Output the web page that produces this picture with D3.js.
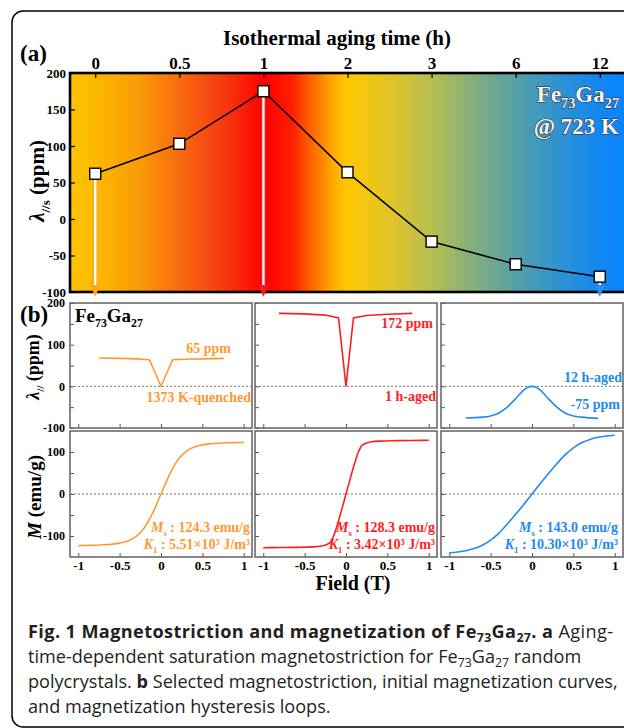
<!DOCTYPE html>
<html>
<head>
<meta charset="utf-8">
<script src="https://cdn.jsdelivr.net/npm/d3@7"></script>
<style>
html, body { margin: 0; padding: 0; background: #fff; overflow: hidden; }
svg { display: block; }
</style>
</head>
<body>
<div id="chart"></div>
<script>
// ---- data ----
// (a) saturation magnetostriction vs aging time
const agingTimes = ["0", "0.5", "1", "2", "3", "6", "12"];
const lambdaSat = [62, 103, 175, 64, -31, -62, -79];
const arrowTimes = ["0", "1", "12"];

// (b) magnetostriction curves, field in T, lambda in ppm
const fieldQ = [-0.75, -0.5, -0.3, -0.14, -0.07, 0, 0.07, 0.14, 0.3, 0.5, 0.76];
const lambdaQ = [68, 67, 66, 64, 32, 0, 32, 64, 65, 66, 67];
const field1h = [-0.81, -0.5, -0.25, -0.09, -0.045, 0, 0.045, 0.09, 0.25, 0.5, 0.8];
const lambda1h = [175, 174, 171, 164, 82, 0, 82, 164, 170, 173, 175];
const field12h = [-0.8, -0.6, -0.5, -0.4, -0.3, -0.2, -0.1, -0.05, 0, 0.05, 0.1, 0.2, 0.3, 0.4, 0.5, 0.6, 0.8];
const lambda12h = [-76, -74, -71, -64, -50, -30, -9, -2, 0, -2, -9, -30, -50, -64, -71, -74, -77];

// (b) magnetization curves, field in T, M in emu/g
const fieldMQ = [-1, -0.9, -0.8, -0.7, -0.6, -0.5, -0.4, -0.3, -0.2, -0.1, 0, 0.1, 0.2, 0.3, 0.4, 0.5, 0.6, 0.7, 0.8, 0.9, 1];
const magQ = [-123, -122.5, -122, -121, -119.5, -117, -112, -101, -80, -45, 0, 45, 80, 101, 112, 117, 119.5, 121, 122, 122.5, 123];
const fieldM1h = [-1, -0.8, -0.6, -0.4, -0.3, -0.2, -0.15, -0.1, -0.05, 0, 0.05, 0.1, 0.15, 0.2, 0.3, 0.4, 0.6, 0.8, 1];
const mag1h = [-128, -127.5, -127, -126, -124, -117, -100, -70, -36, 0, 36, 70, 100, 117, 124, 126, 127, 127.5, 128];
const fieldM12h = [-1, -0.9, -0.8, -0.7, -0.6, -0.5, -0.4, -0.3, -0.2, -0.1, 0, 0.1, 0.2, 0.3, 0.4, 0.5, 0.6, 0.7, 0.8, 0.9, 1];
const mag12h = [-140, -138, -135, -130, -122, -110, -93, -72, -49, -25, 0, 25, 49, 72, 93, 110, 122, 130, 135, 138, 140];

const sampleNames = ["1373 K-quenched", "1 h-aged", "12 h-aged"];
const lambdaLabels = ["65 ppm", "172 ppm", "-75 ppm"];
const msValues = ["124.3", "128.3", "143.0"];
const k1Values = ["5.51", "3.42", "10.30"];

// ---- styles ----
const serif = "'Liberation Serif', 'Times New Roman', serif";
const sampleColors = ["#ff9933", "#ff1e1e", "#2489ee"];
const bgStops = [
    [0, "#fdc400"], [0.047, "#fcb800"], [0.126, "#fa9a08"], [0.198, "#f86a10"],
    [0.279, "#f53a10"], [0.35, "#ff0000"], [0.4, "#ff1e00"], [0.432, "#ff6000"],
    [0.472, "#ffa800"], [0.499, "#ffc800"], [0.577, "#e2c428"], [0.65, "#b6bf4f"],
    [0.724, "#86b07c"], [0.802, "#56a0a6"], [0.883, "#2e92d2"], [0.955, "#1287f2"], [1, "#0a84ff"]
];

const W = 624, H = 728;
const svg = d3.select("#chart").append("svg")
    .attr("width", W).attr("height", H)
    .attr("font-family", serif).attr("font-weight", "bold");

// text with subscripts / italics: parts = [[text, "sub"|"it"|null], ...]
function richText(sel, parts, size) {
    let shifted = 0;
    parts.forEach(([t, kind]) => {
        const sp = sel.append("tspan").text(t);
        if (kind === "sub") {
            const d = size * 0.28;
            sp.attr("font-size", size * 0.62).attr("dy", d - shifted);
            shifted = d;
        } else {
            if (shifted) sp.attr("dy", -shifted);
            shifted = 0;
            if (kind === "it") sp.attr("font-style", "italic");
        }
    });
    return sel;
}

// outer rounded frame
svg.append("rect")
    .attr("x", 12).attr("y", 11).attr("width", 660).attr("height", 716)
    .attr("rx", 11).attr("fill", "none").attr("stroke", "#000").attr("stroke-width", 1.5);

// ================= panel (a) =================
const A = {left: 70, right: 625, top: 73, bottom: 292};
const xA = d3.scalePoint().domain(agingTimes).range([A.left, A.right]).padding(0.3);
const yA = d3.scaleLinear().domain([-100, 200]).range([A.bottom, A.top]);

const grad = svg.append("defs").append("linearGradient")
    .attr("id", "bg").attr("gradientUnits", "userSpaceOnUse")
    .attr("x1", A.left).attr("x2", A.right).attr("y1", 0).attr("y2", 0);
grad.selectAll("stop").data(bgStops).join("stop")
    .attr("offset", d => d[0]).attr("stop-color", d => d[1]);

const gA = svg.append("g");
gA.append("rect")
    .attr("x", A.left).attr("y", A.top)
    .attr("width", A.right - A.left).attr("height", A.bottom - A.top)
    .attr("fill", "url(#bg)");

const pts = agingTimes.map((t, i) => ({t: t, v: lambdaSat[i]}));

// arrows down to panel (b)
const arrowColors = {"0": "#ffa51a", "1": "#ff1a1a", "12": "#2a8ff0"};
const arrowHead = (x, tip) => `M${x - 5},${tip - 12}L${x + 5},${tip - 12}L${x},${tip}Z`;
arrowTimes.forEach(t => {
    const x = xA(t);
    const y0 = yA(lambdaSat[agingTimes.indexOf(t)]) + 6;
    const tip = A.bottom + 5;
    gA.append("line").attr("x1", x).attr("x2", x).attr("y1", y0).attr("y2", tip - 11)
        .attr("stroke", arrowColors[t]).attr("stroke-width", 4.6);
    gA.append("line").attr("x1", x).attr("x2", x).attr("y1", y0).attr("y2", tip - 11)
        .attr("stroke", "#fff").attr("stroke-width", 2.4);
});

gA.append("path")
    .datum(pts)
    .attr("fill", "none").attr("stroke", "#000").attr("stroke-width", 1.6)
    .attr("d", d3.line().x(d => xA(d.t)).y(d => yA(d.v)));

gA.selectAll(".mk").data(pts).join("rect")
    .attr("class", "mk")
    .attr("x", d => xA(d.t) - 5.5).attr("y", d => yA(d.v) - 5.5)
    .attr("width", 11).attr("height", 11)
    .attr("fill", "#fff").attr("stroke", "#000").attr("stroke-width", 1.4);

// axes of (a)
const axTop = gA.append("g").attr("transform", `translate(0,${A.top})`)
    .call(d3.axisTop(xA).tickSizeInner(-5).tickSizeOuter(0).tickPadding(4));
axTop.attr("font-family", serif).attr("font-size", 17).attr("font-weight", "bold");
axTop.select(".domain").remove();
axTop.selectAll("line").attr("stroke-width", 1.2);

const axLeftA = gA.append("g").attr("transform", `translate(${A.left},0)`)
    .call(d3.axisLeft(yA).tickValues([-100, -50, 0, 50, 100, 150, 200])
        .tickFormat(d => String(d)).tickSizeInner(-5).tickSizeOuter(0).tickPadding(4));
axLeftA.attr("font-family", serif).attr("font-size", 13).attr("font-weight", "bold");
axLeftA.select(".domain").remove();
axLeftA.selectAll("line").attr("stroke-width", 1.2);

gA.append("rect")
    .attr("x", A.left).attr("y", A.top)
    .attr("width", A.right - A.left + 10).attr("height", A.bottom - A.top)
    .attr("fill", "none").attr("stroke", "#000").attr("stroke-width", 2.6);

// arrow heads on top of the frame
arrowTimes.forEach(t => {
    gA.append("path").attr("d", arrowHead(xA(t), A.bottom + 5)).attr("fill", arrowColors[t]);
});

svg.append("text").attr("x", 20).attr("y", 61).attr("font-size", 23).text("(a)");
svg.append("text").attr("x", 337).attr("y", 45).attr("text-anchor", "middle")
    .attr("font-size", 21).text("Isothermal aging time (h)");
richText(svg.append("text").attr("transform", "translate(44,181) rotate(-90)")
    .attr("text-anchor", "middle").attr("font-size", 21),
    [["\u03bb", "it"], ["//s", "sub"], [" (ppm)", null]], 21);

const outline = sel => sel.attr("fill", "#f6f6f6").attr("stroke", "#222")
    .attr("stroke-width", 1).attr("paint-order", "stroke");
richText(outline(svg.append("text").attr("x", 619).attr("y", 102)
    .attr("text-anchor", "end").attr("font-size", 23)),
    [["Fe", null], ["73", "sub"], ["Ga", null], ["27", "sub"]], 23);
outline(svg.append("text").attr("x", 619).attr("y", 134)
    .attr("text-anchor", "end").attr("font-size", 23)).text("@ 723 K");

// ================= panel (b) =================
const cols = [{x0: 70, x1: 252}, {x0: 255, x1: 437}, {x0: 441, x1: 623}];
const rows = [{y0: 303, y1: 428, dom: [-100, 200]}, {y0: 431, y1: 557, dom: [-150, 150]}];
const lambdaSeries = [[fieldQ, lambdaQ], [field1h, lambda1h], [field12h, lambda12h]];
const magSeries = [[fieldMQ, magQ], [fieldM1h, mag1h], [fieldM12h, mag12h]];

cols.forEach((c, ci) => {
    const x = d3.scaleLinear().domain([-1.1, 1.1]).range([c.x0, c.x1]);
    rows.forEach((r, ri) => {
        const y = d3.scaleLinear().domain(r.dom).range([r.y1, r.y0]);
        const g = svg.append("g");
        g.append("rect").attr("x", c.x0).attr("y", r.y0)
            .attr("width", c.x1 - c.x0).attr("height", r.y1 - r.y0)
            .attr("fill", "#fff");
        g.append("line").attr("x1", c.x0).attr("x2", c.x1).attr("y1", y(0)).attr("y2", y(0))
            .attr("stroke", "#777").attr("stroke-width", 1).attr("stroke-dasharray", "2,2");

        const [fx, fy] = ri === 0 ? lambdaSeries[ci] : magSeries[ci];
        const data = fx.map((f, i) => [f, fy[i]]);
        const smooth = !(ri === 0 && ci < 2);
        g.append("path").datum(data)
            .attr("fill", "none").attr("stroke", sampleColors[ci]).attr("stroke-width", 1.6)
            .attr("d", d3.line().x(d => x(d[0])).y(d => y(d[1]))
                .curve(smooth ? d3.curveMonotoneX : d3.curveLinear));

        const yTicks = ri === 0 ? [-100, -50, 0, 50, 100, 150, 200] : [-100, -50, 0, 50, 100];
        const ay = g.append("g").attr("transform", `translate(${c.x0},0)`)
            .call(d3.axisLeft(y).tickValues(yTicks)
                .tickFormat(d => (ci === 0 && d % 100 === 0) ? String(d) : "")
                .tickSizeInner(-4).tickSizeOuter(0).tickPadding(5));
        ay.attr("font-family", serif).attr("font-size", 12).attr("font-weight", "bold");
        ay.select(".domain").remove();
        ay.selectAll("line").attr("stroke", "#555");

        const ax = g.append("g").attr("transform", `translate(0,${r.y1})`)
            .call(d3.axisBottom(x).tickValues([-1, -0.5, 0, 0.5, 1])
                .tickFormat(d => ri === 1 ? String(d) : "")
                .tickSizeInner(-4).tickSizeOuter(0).tickPadding(4));
        ax.attr("font-family", serif).attr("font-size", 13).attr("font-weight", "bold");
        ax.select(".domain").remove();
        ax.selectAll("line").attr("stroke", "#555");

        // drop the empty label nodes
        g.selectAll(".tick text").filter(function () { return !this.textContent; }).remove();

        g.append("rect").attr("x", c.x0).attr("y", r.y0)
            .attr("width", c.x1 - c.x0).attr("height", r.y1 - r.y0)
            .attr("fill", "none").attr("stroke", "#6a6a6a").attr("stroke-width", 1.6);
    });
});

svg.append("text").attr("x", 20).attr("y", 322).attr("font-size", 23).text("(b)");
richText(svg.append("text").attr("x", 75).attr("y", 322).attr("font-size", 19),
    [["Fe", null], ["73", "sub"], ["Ga", null], ["27", "sub"]], 19);
richText(svg.append("text").attr("transform", "translate(39,367) rotate(-90)")
    .attr("text-anchor", "middle").attr("font-size", 18),
    [["\u03bb", "it"], ["//", "sub"], [" (ppm)", null]], 18);
richText(svg.append("text").attr("transform", "translate(41,497) rotate(-90)")
    .attr("text-anchor", "middle").attr("font-size", 19),
    [["M", "it"], [" (emu/g)", null]], 19);
svg.append("text").attr("x", 353).attr("y", 590).attr("text-anchor", "middle")
    .attr("font-size", 20).text("Field (T)");

// sample annotations (right-aligned)
const labelPos = [
    {ppm: [231, 353], name: [251, 402]},
    {ppm: [433, 328], name: [436, 401]},
    {ppm: [620, 409], name: [622, 382]}
];
const msRight = [250, 435, 618];
cols.forEach((c, ci) => {
    const col = sampleColors[ci];
    svg.append("text").attr("x", labelPos[ci].ppm[0]).attr("y", labelPos[ci].ppm[1])
        .attr("text-anchor", "end").attr("font-size", 14).attr("fill", col).text(lambdaLabels[ci]);
    svg.append("text").attr("x", labelPos[ci].name[0]).attr("y", labelPos[ci].name[1])
        .attr("text-anchor", "end").attr("font-size", 14).attr("fill", col).text(sampleNames[ci]);
    richText(svg.append("text").attr("x", msRight[ci]).attr("y", 532)
        .attr("text-anchor", "end").attr("font-size", 14).attr("fill", col),
        [["M", "it"], ["s", "sub"], [" : " + msValues[ci] + " emu/g", null]], 14);
    richText(svg.append("text").attr("x", msRight[ci]).attr("y", 549)
        .attr("text-anchor", "end").attr("font-size", 14).attr("fill", col),
        [["K", "it"], ["1", "sub"], [" : " + k1Values[ci] + "\u00d710\u00b3 J/m\u00b3", null]], 14);
});

// ================= caption =================
const cap = svg.append("g").attr("font-family", "'Open Sans', 'Noto Sans', sans-serif")
    .attr("font-weight", "normal").attr("fill", "#231f20");
const capLines = [
    [["Fig. 1 Magnetostriction and magnetization of Fe", "b"], ["73", "bsub"], ["Ga", "b"], ["27", "bsub"],
        [". a", "b"], [" Aging-", null]],
    [["time-dependent saturation magnetostriction for Fe", null], ["73", "sub"], ["Ga", null], ["27", "sub"],
        [" random", null]],
    [["polycrystals. ", null], ["b", "b"], [" Selected magnetostriction, initial magnetization curves,", null]],
    [["and magnetization hysteresis loops.", null]]
];
const capTexts = capLines.map((parts, li) => {
    const t = cap.append("text").attr("x", 28).attr("y", 638 + li * 25);
    let shifted = false;
    parts.forEach(([s, k]) => {
        const sp = t.append("tspan").text(s);
        if (k === "b" || k === "bsub") sp.attr("font-weight", "bold");
        if (k === "sub" || k === "bsub") {
            sp.attr("class", "csub").attr("dy", shifted ? 0 : 4);
            shifted = true;
        } else if (shifted) {
            sp.attr("dy", -4);
            shifted = false;
        }
    });
    return t;
});
function applyCapSize(s) {
    cap.attr("font-size", s);
    cap.selectAll(".csub").attr("font-size", s * 0.68);
}
// size so that line 3 spans the column, then justify line 1
applyCapSize(17);
const w3 = capTexts[2].node().getComputedTextLength();
applyCapSize(17 * 590 / w3);
capTexts[0].attr("textLength", 585).attr("lengthAdjust", "spacing");
</script>
</body>
</html>
